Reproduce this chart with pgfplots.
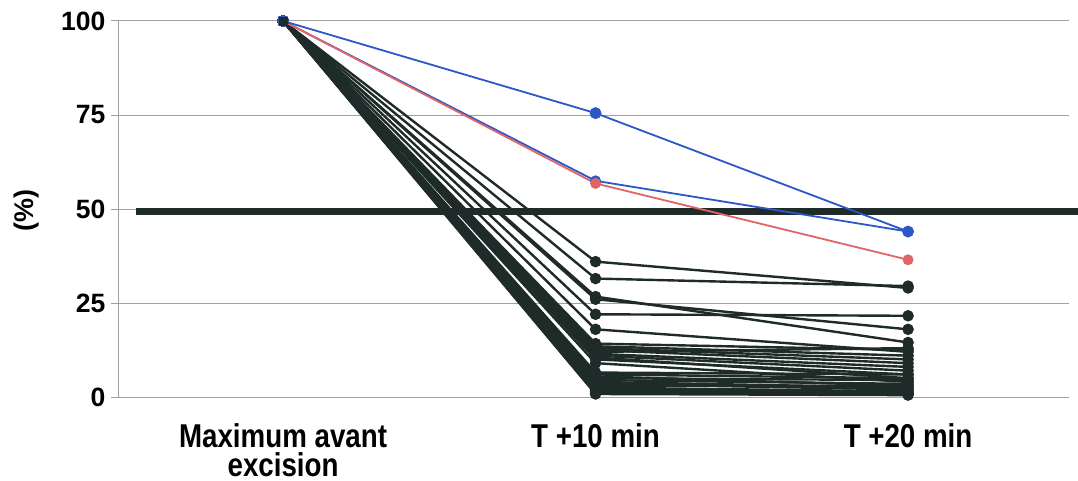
\documentclass[border=0pt]{standalone}
\usepackage{fontspec}
\setmainfont{Liberation Sans}
\newfontfamily\narrowfont[FakeStretch=0.84]{Liberation Sans}
\usepackage{pgfplots}
\pgfplotsset{compat=1.18}

\definecolor{ink}{HTML}{1F2B28}
\definecolor{lblue}{HTML}{2C57C8}
\definecolor{lred}{HTML}{E26464}
\definecolor{gridgray}{HTML}{A0A0A0}

\pgfplotsset{
  blk/.style={ink, line width=2.4pt, mark=*, mark size=4.5pt,
    mark options={fill=ink, draw=ink, solid}},
}

\begin{document}
\begin{tikzpicture}
\begin{axis}[
    at={(0,0)}, anchor=south west,
    scale only axis,
    width=950pt, height=376pt,
    xmin=-0.525, xmax=2.515,
    ymin=0, ymax=100,
    clip=false,
    axis x line=bottom, axis y line=left,
    axis line style={-, gridgray, line width=1pt},
    xtick={0,1,2},
    xticklabels={{Maximum avant\\excision},{T +10 min},{T +20 min}},
    x tick style={draw=none},
    xticklabel style={align=center, inner sep=1.5pt, yshift=-17pt,
      font=\fontsize{33}{29}\selectfont\narrowfont\bfseries},
    extra x ticks={-0.525,0.5,1.5,2.515},
    extra x tick labels={},
    extra x tick style={grid=none, tick align=outside,
      major tick length=8pt,
      tick style={draw=gridgray, line width=1pt}},
    ytick={0,25,50,75,100},
    y tick style={draw=gridgray, line width=1pt},
    tick align=outside, major tick length=8pt,
    yticklabel style={xshift=-2pt, font=\fontsize{26.5}{30}\selectfont\bfseries},
    /pgf/number format/assume math mode=true,
    ymajorgrids,
    major grid style={gridgray, line width=1pt},
    ylabel={(\%)},
    ylabel style={at={(axis description cs:-0.097,0.497)}, anchor=center,
      font=\fontsize{27}{30}\selectfont\bfseries},
]
% seuil 50 %
\addplot[color=ink, line width=7pt, forget plot] coordinates {(-0.472,49.3) (2.545,49.3)};

% patients
\addplot[blk] coordinates {(0,100) (1,36.0) (2,29.0)};
\addplot[blk] coordinates {(0,100) (1,31.5) (2,29.5)};
\addplot[blk] coordinates {(0,100) (1,26.7) (2,14.5)};
\addplot[blk] coordinates {(0,100) (1,26.0) (2,18.0)};
\addplot[blk] coordinates {(0,100) (1,22.0) (2,21.6)};
\addplot[blk] coordinates {(0,100) (1,18.0) (2,12.0)};
\addplot[blk] coordinates {(0,100) (1,14.2) (2,12.5)};
\addplot[blk] coordinates {(0,100) (1,13.5) (2,11.0)};
\addplot[blk] coordinates {(0,100) (1,13.0) (2,10.0)};
\addplot[blk] coordinates {(0,100) (1,12.5) (2,9.0)};
\addplot[blk] coordinates {(0,100) (1,12.0) (2,13.0)};
\addplot[blk] coordinates {(0,100) (1,11.5) (2,8.0)};
\addplot[blk] coordinates {(0,100) (1,11.0) (2,7.0)};
\addplot[blk] coordinates {(0,100) (1,10.5) (2,5.0)};
\addplot[blk] coordinates {(0,100) (1,10.0) (2,6.0)};
\addplot[blk] coordinates {(0,100) (1,9.0) (2,4.0)};
\addplot[blk] coordinates {(0,100) (1,6.5) (2,6.0)};
\addplot[blk] coordinates {(0,100) (1,6.0) (2,5.0)};
\addplot[blk] coordinates {(0,100) (1,5.5) (2,3.0)};
\addplot[blk] coordinates {(0,100) (1,5.0) (2,4.5)};
\addplot[blk] coordinates {(0,100) (1,4.5) (2,3.5)};
\addplot[blk] coordinates {(0,100) (1,4.0) (2,2.5)};
\addplot[blk] coordinates {(0,100) (1,3.5) (2,2.0)};
\addplot[blk] coordinates {(0,100) (1,3.0) (2,3.0)};
\addplot[blk] coordinates {(0,100) (1,2.5) (2,1.5)};
\addplot[blk] coordinates {(0,100) (1,2.0) (2,1.0)};
\addplot[blk] coordinates {(0,100) (1,1.5) (2,1.2)};
\addplot[blk] coordinates {(0,100) (1,1.0) (2,0.8)};
\addplot[blk] coordinates {(0,100) (1,0.8) (2,0.5)};

% cas particuliers
\addplot[lblue, line width=1.8pt, mark=*, mark size=4.5pt, mark options={fill=lblue}] coordinates {(0,100) (1,57.5) (2,44.0)};
\addplot[lred, line width=1.8pt, mark=*, mark size=4.5pt, mark options={fill=lred}] coordinates {(0,100) (1,56.8) (2,36.5)};
\addplot[lblue, line width=1.8pt, mark=*, mark size=5pt, mark options={fill=lblue}] coordinates {(0,100) (1,75.5) (2,44.0)};
\addplot[ink, only marks, mark=square*, mark size=4pt] coordinates {(0,100)};
\end{axis}
\pgfresetboundingbox
\path[use as bounding box] (-119pt,-83pt) rectangle (959pt,397pt);
\end{tikzpicture}
\end{document}
